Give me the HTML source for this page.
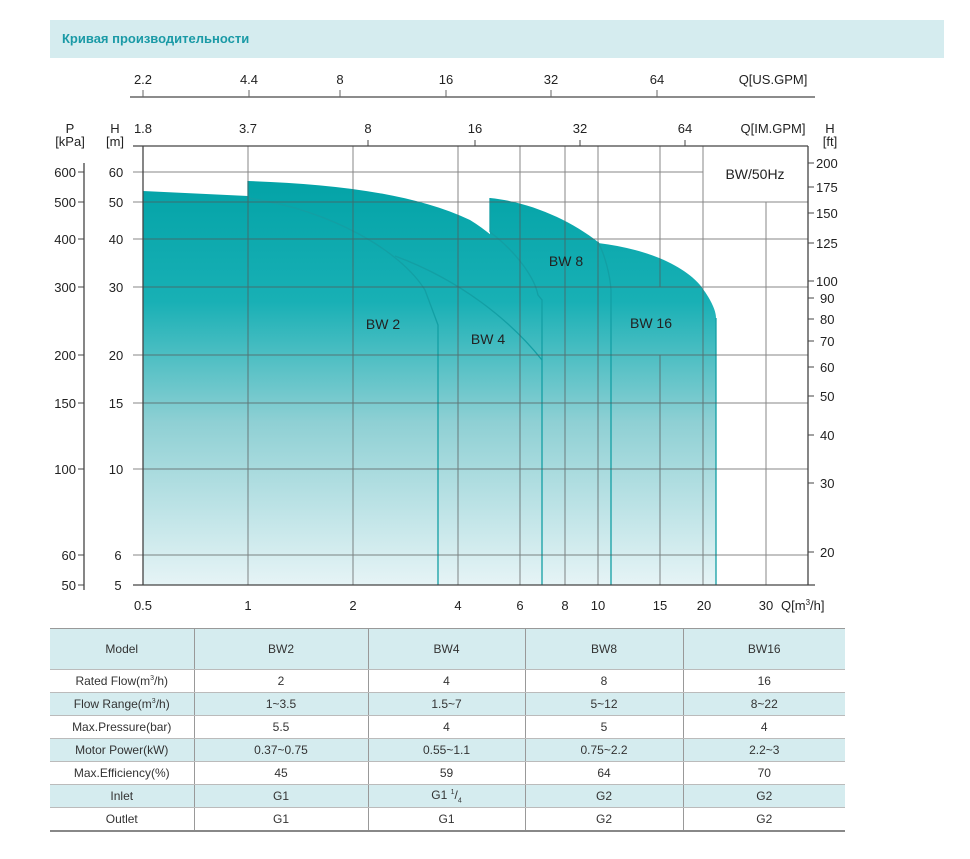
<!DOCTYPE html>
<html><head><meta charset="utf-8"><style>
body{margin:0;background:#fff;width:970px;height:859px;overflow:hidden;font-family:"Liberation Sans",sans-serif}
.hdr{position:absolute;left:50px;top:20px;width:894px;height:38px;background:#d5ecef;}
.hdr span{position:absolute;left:12px;top:11px;color:#1a9aa6;font-weight:bold;font-size:13px}
table{position:absolute;left:50px;top:628px;width:795px;border-collapse:collapse;font-size:12px;color:#333}
td{text-align:center;border-left:1px solid #999;border-bottom:1px solid #bbb;height:22px;padding:0}
td:first-child{border-left:none}
tr.t td{background:#d5ecef}
tr.h td{height:40px}
table{border-top:1px solid #999;border-bottom:2px solid #888}
</style></head><body>
<div class="hdr"><span>Кривая производительности</span></div>
<svg width="970" height="620" style="position:absolute;left:0;top:0" font-family="Liberation Sans, DejaVu Sans, sans-serif">
<defs><linearGradient id="g" x1="0" y1="180" x2="0" y2="585" gradientUnits="userSpaceOnUse">
<stop offset="0" stop-color="#03a3a7"/><stop offset="0.3" stop-color="#18b0b5"/><stop offset="0.6" stop-color="#8fd0d4"/><stop offset="1" stop-color="#e6f4f6"/></linearGradient></defs>
<g font-size="13" fill="#222" text-anchor="middle">
<line x1="130" y1="97" x2="815" y2="97" stroke="#666" stroke-width="1.5"/>
<g stroke="#666"><line x1="143" y1="90" x2="143" y2="97"/><line x1="249" y1="90" x2="249" y2="97"/><line x1="340" y1="90" x2="340" y2="97"/><line x1="446" y1="90" x2="446" y2="97"/><line x1="551" y1="90" x2="551" y2="97"/><line x1="657" y1="90" x2="657" y2="97"/></g>
<text x="143" y="84">2.2</text><text x="249" y="84">4.4</text><text x="340" y="84">8</text><text x="446" y="84">16</text><text x="551" y="84">32</text><text x="657" y="84">64</text>
<text x="773" y="84">Q[US.GPM]</text>
<text x="143" y="133">1.8</text><text x="248" y="133">3.7</text><text x="368" y="133">8</text><text x="475" y="133">16</text><text x="580" y="133">32</text><text x="685" y="133">64</text>
<text x="773" y="133">Q[IM.GPM]</text>
<text x="70" y="133">P</text><text x="70" y="146">[kPa]</text><text x="115" y="133">H</text><text x="115" y="146">[m]</text>
<text x="830" y="133">H</text><text x="830" y="146">[ft]</text>
</g>
<!-- fills -->
<g fill="url(#g)" stroke="none">
<path d="M143,191 L248,196 C320,210 390,240 425,290 L438,325 L438,585 L143,585 Z"/>
<path d="M248,181 C330,184 410,192 470,220 C510,245 530,275 538,295 L542,300 L542,585 L248,585 Z"/>
<path d="M490,198 C530,202 570,220 598,242 C605,255 610,275 611,290 L611,585 L490,585 Z"/>
<path d="M598,243 C640,248 680,262 700,285 C710,298 716,310 716,318 L716,585 L598,585 Z"/>
</g>
<g fill="none" stroke="#139fa4" stroke-width="1.3">
<path d="M248,198 C330,210 400,250 425,290 L438,325 L438,585"/>
<path d="M395,256 C460,280 510,320 542,360"/>
<path d="M490,232 C520,255 535,280 538,295 L542,300 L542,585"/>
<path d="M598,242 C605,255 610,275 611,290 L611,585"/>
<path d="M716,318 L716,585"/>
<path d="M490,198 L490,232"/>
<path d="M248,181 L248,196"/>
</g>
<!-- grid -->
<g stroke="#555" stroke-width="1" opacity="0.7">
<line x1="133" y1="146" x2="808" y2="146"/>
<line x1="133" y1="172" x2="703" y2="172"/><line x1="133" y1="202" x2="808" y2="202"/><line x1="133" y1="239" x2="808" y2="239"/><line x1="133" y1="287" x2="808" y2="287"/><line x1="133" y1="355" x2="808" y2="355"/><line x1="133" y1="403" x2="808" y2="403"/><line x1="133" y1="469" x2="808" y2="469"/><line x1="133" y1="555" x2="808" y2="555"/>
<line x1="248" y1="146" x2="248" y2="585"/><line x1="353" y1="146" x2="353" y2="585"/><line x1="458" y1="146" x2="458" y2="585"/><line x1="520" y1="146" x2="520" y2="585"/><line x1="565" y1="146" x2="565" y2="585"/><line x1="598" y1="146" x2="598" y2="585"/><line x1="660" y1="146" x2="660" y2="287"/><line x1="660" y1="355" x2="660" y2="585"/><line x1="703" y1="146" x2="703" y2="585"/><line x1="766" y1="202" x2="766" y2="585"/>
<line x1="703" y1="202" x2="808" y2="202"/>
</g>
<g stroke="#444" stroke-width="1.3">
<line x1="143" y1="146" x2="143" y2="585"/><line x1="808" y1="146" x2="808" y2="585"/><line x1="133" y1="585" x2="815" y2="585"/><line x1="133" y1="146" x2="808" y2="146"/>
<line x1="84" y1="163" x2="84" y2="590"/>
</g>
<g stroke="#444"><line x1="368" y1="140" x2="368" y2="146"/><line x1="475" y1="140" x2="475" y2="146"/><line x1="580" y1="140" x2="580" y2="146"/><line x1="685" y1="140" x2="685" y2="146"/>
<line x1="78" y1="172" x2="84" y2="172"/><line x1="78" y1="202" x2="84" y2="202"/><line x1="78" y1="239" x2="84" y2="239"/><line x1="78" y1="287" x2="84" y2="287"/><line x1="78" y1="355" x2="84" y2="355"/><line x1="78" y1="403" x2="84" y2="403"/><line x1="78" y1="469" x2="84" y2="469"/><line x1="78" y1="555" x2="84" y2="555"/><line x1="78" y1="585" x2="84" y2="585"/>
<line x1="808" y1="163" x2="814" y2="163"/><line x1="808" y1="187" x2="814" y2="187"/><line x1="808" y1="213" x2="814" y2="213"/><line x1="808" y1="243" x2="814" y2="243"/><line x1="808" y1="281" x2="814" y2="281"/><line x1="808" y1="298" x2="814" y2="298"/><line x1="808" y1="319" x2="814" y2="319"/><line x1="808" y1="341" x2="814" y2="341"/><line x1="808" y1="367" x2="814" y2="367"/><line x1="808" y1="396" x2="814" y2="396"/><line x1="808" y1="435" x2="814" y2="435"/><line x1="808" y1="483" x2="814" y2="483"/><line x1="808" y1="552" x2="814" y2="552"/>
</g>
<g font-size="13" fill="#222">
<g text-anchor="end"><text x="76" y="177">600</text><text x="76" y="207">500</text><text x="76" y="244">400</text><text x="76" y="292">300</text><text x="76" y="360">200</text><text x="76" y="408">150</text><text x="76" y="474">100</text><text x="76" y="560">60</text><text x="76" y="590">50</text></g>
<g text-anchor="middle"><text x="116" y="177">60</text><text x="116" y="207">50</text><text x="116" y="244">40</text><text x="116" y="292">30</text><text x="116" y="360">20</text><text x="116" y="408">15</text><text x="116" y="474">10</text><text x="118" y="560">6</text><text x="118" y="590">5</text></g>
<g><text x="816" y="168">200</text><text x="816" y="192">175</text><text x="816" y="218">150</text><text x="816" y="248">125</text><text x="816" y="286">100</text><text x="820" y="303">90</text><text x="820" y="324">80</text><text x="820" y="346">70</text><text x="820" y="372">60</text><text x="820" y="401">50</text><text x="820" y="440">40</text><text x="820" y="488">30</text><text x="820" y="557">20</text></g>
<g text-anchor="middle"><text x="143" y="610">0.5</text><text x="248" y="610">1</text><text x="353" y="610">2</text><text x="458" y="610">4</text><text x="520" y="610">6</text><text x="565" y="610">8</text><text x="598" y="610">10</text><text x="660" y="610">15</text><text x="704" y="610">20</text><text x="766" y="610">30</text></g>
<text x="781" y="610">Q[m<tspan font-size="8" dy="-5">3</tspan><tspan dy="5">/h]</tspan></text>
<text x="383" y="329" text-anchor="middle" font-size="14">BW 2</text>
<text x="488" y="344" text-anchor="middle" font-size="14">BW 4</text>
<text x="566" y="266" text-anchor="middle" font-size="14">BW 8</text>
<text x="651" y="328" text-anchor="middle" font-size="14">BW 16</text>
<text x="755" y="179" text-anchor="middle" font-size="14">BW/50Hz</text>
</g>
</svg>
<table>
<colgroup><col style="width:144px"><col style="width:174px"><col style="width:157px"><col style="width:158px"><col style="width:162px"></colgroup>
<tr class="t h"><td>Model</td><td>BW2</td><td>BW4</td><td>BW8</td><td>BW16</td></tr>
<tr><td>Rated Flow(m<sup style="font-size:7px">3</sup>/h)</td><td>2</td><td>4</td><td>8</td><td>16</td></tr>
<tr class="t"><td>Flow Range(m<sup style="font-size:7px">3</sup>/h)</td><td>1~3.5</td><td>1.5~7</td><td>5~12</td><td>8~22</td></tr>
<tr><td>Max.Pressure(bar)</td><td>5.5</td><td>4</td><td>5</td><td>4</td></tr>
<tr class="t"><td>Motor Power(kW)</td><td>0.37~0.75</td><td>0.55~1.1</td><td>0.75~2.2</td><td>2.2~3</td></tr>
<tr><td>Max.Efficiency(%)</td><td>45</td><td>59</td><td>64</td><td>70</td></tr>
<tr class="t"><td>Inlet</td><td>G1</td><td>G1 <sup style="font-size:7px">1</sup>/<sub style="font-size:7px">4</sub></td><td>G2</td><td>G2</td></tr>
<tr><td>Outlet</td><td>G1</td><td>G1</td><td>G2</td><td>G2</td></tr>
</table>
</body></html>
